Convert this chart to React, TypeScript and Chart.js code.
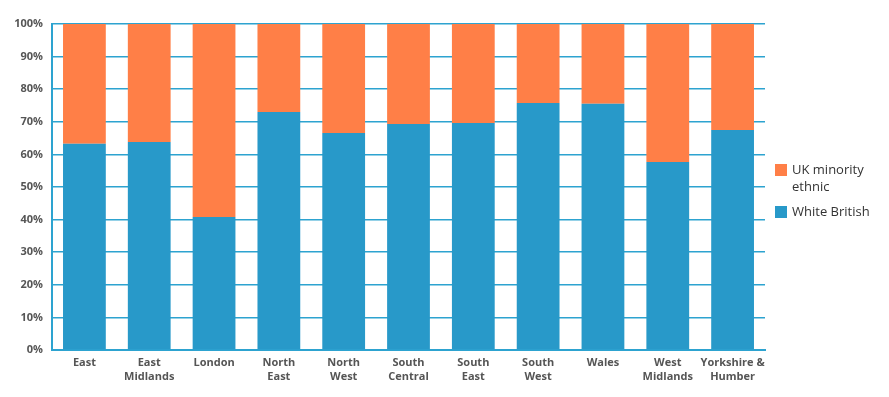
import React, { useEffect, useRef } from "react";
import { Chart, registerables } from "chart.js";

Chart.register(...registerables);

const categories: string[][] = [
  ["East"],
  ["East", "Midlands"],
  ["London"],
  ["North", "East"],
  ["North", "West"],
  ["South", "Central"],
  ["South", "East"],
  ["South", "West"],
  ["Wales"],
  ["West", "Midlands"],
  ["Yorkshire &", "Humber"],
];
const whiteBritish = [63.3, 63.8, 40.8, 73.0, 66.6, 69.3, 69.6, 75.8, 75.5, 57.7, 67.5];
const ukMinority = whiteBritish.map((v) => 100 - v);
const yTicks = [0, 10, 20, 30, 40, 50, 60, 70, 80, 90, 100];

const BLUE = "#2899C9";
const ORANGE = "#FF7F47";
const GRID = "#2DA3D0";

const legendPlugin = {
  id: "customLegend",
  afterDraw(chart: any) {
    const ctx = chart.ctx;
    ctx.save();
    const items = [
      { color: ORANGE, lines: ["UK minority", "ethnic"], y: 170 },
      { color: BLUE, lines: ["White British"], y: 212 },
    ];
    ctx.font = "13px 'Open Sans', sans-serif";
    ctx.textBaseline = "middle";
    for (const it of items) {
      ctx.fillStyle = it.color;
      ctx.fillRect(775, it.y - 6, 12, 12);
      ctx.fillStyle = "#333";
      it.lines.forEach((l, i) => ctx.fillText(l, 792, it.y + i * 17));
    }
    ctx.restore();
  },
};

export default function App() {
  const ref = useRef<HTMLCanvasElement>(null);
  useEffect(() => {
    document.body.style.margin = "0";
    const chart = new Chart(ref.current!, {
      type: "bar",
      data: {
        labels: categories,
        datasets: [
          { label: "White British", data: whiteBritish, backgroundColor: BLUE },
          { label: "UK minority ethnic", data: ukMinority, backgroundColor: ORANGE },
        ],
      },
      options: {
        animation: false,
        responsive: false,
        maintainAspectRatio: false,
        layout: { padding: { top: 24, right: 124, left: 0, bottom: 0 } },
        plugins: { legend: { display: false }, tooltip: { enabled: false } },
        datasets: { bar: { categoryPercentage: 1, barPercentage: 0.66 } },
        scales: {
          x: {
            stacked: true,
            grid: { display: false },
            border: { display: true, color: GRID, width: 2 },
            ticks: {
              color: "#555",
              font: { family: "'Open Sans', sans-serif", size: 11, weight: "bold", lineHeight: 1.25 },
              padding: -2,
              maxRotation: 0,
              autoSkip: false,
            },
            afterFit: (s: any) => { s.height = 47; },
          },
          y: {
            stacked: true,
            min: 0,
            max: 100,
            afterBuildTicks: (s: any) => { s.ticks = yTicks.map((v) => ({ value: v })); },
            grid: { color: GRID, lineWidth: 1.5, drawTicks: false },
            border: { display: true, color: GRID, width: 2 },
            ticks: {
              color: "#555",
              font: { family: "'Open Sans', sans-serif", size: 11, weight: "bold" },
              padding: 9,
              callback: (v: any) => v + "%",
            },
            afterFit: (s: any) => { s.width = 52; },
          },
        },
      },
      plugins: [legendPlugin],
    } as any);
    return () => chart.destroy();
  }, []);
  return (
    <div style={{ width: 889, height: 397 }}>
      <canvas ref={ref} width={889} height={397} />
    </div>
  );
}
